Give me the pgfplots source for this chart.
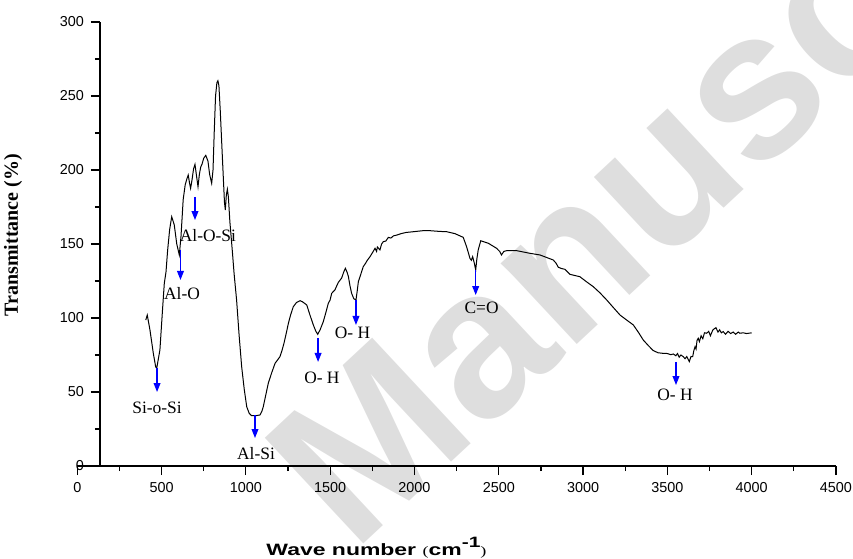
\documentclass[border=0pt]{standalone}
\usepackage{fontspec}
\setmainfont{Liberation Serif}
\newfontfamily\arialfont{Liberation Sans}
\usepackage{graphicx}
\usepackage{pgfplots}
\usepackage{pgfplotstable}
\pgfplotsset{compat=1.18}
\usetikzlibrary{arrows.meta}

% FTIR spectrum, values
\pgfplotstableread{
x y
406 98.6
415 102
431 91.9
451 76
465 67
471 66
490 78.4
504 103
516 123.4
526 131
536 146
548 160
560 168.4
575 163
590 150
605 142.6
615 155
628 180
640 190
650 194
658 196.6
666 191
672 187.6
680 193
690 201
698 203.8
706 197
716 188.7
724 197
732 202
740 204
750 208
762 209.9
775 206
785 197
797 191
805 200
812 225
820 250
828 259
834 260.3
840 257
848 240
858 215
866 195
873 178
878 173
884 183
890 187
896 182
905 165
919 146
930 130
945 112
960 88
975 67
990 52
1005 40
1020 35.5
1034 34
1060 34
1084 34.5
1095 37
1103 40
1118 48
1133 56
1153 63
1173 69.4
1190 72
1202 73.9
1214 78
1226 83
1240 90
1252 96.4
1265 102
1281 107.6
1300 110.5
1321 111.7
1335 111
1361 108.8
1380 102
1400 95.3
1415 91
1426 89
1440 92
1459 97.5
1475 104
1489 110
1499 112
1509 116.7
1528 119
1548 124
1568 127
1580 131
1590 133.6
1600 131
1608 128
1617 122
1627 116.7
1640 113
1653 112.2
1660 118
1667 124.5
1680 129
1696 134.7
1710 137
1720 139
1736 141.4
1750 144
1766 147.1
1775 145
1780 148
1795 146
1805 150
1815 151.6
1830 152
1845 154.5
1860 154
1875 155.5
1894 156
1920 157
1950 157.8
1993 158.3
2050 159
2092 159
2150 158.5
2191 158.3
2240 157
2289 154.5
2309 148.2
2329 140.3
2337 139
2345 141.4
2355 137
2363 132.4
2370 140
2378 146
2393 152.2
2438 150.5
2487 147.1
2505 145
2516 142.6
2530 145
2547 145.5
2606 145.5
2685 143.7
2744 142.6
2823 139.2
2840 137
2853 134.3
2870 133.5
2892 132.9
2922 129.5
2981 127.9
3020 124.5
3060 121.2
3100 117
3140 112.2
3180 107
3219 102
3260 98.5
3298 95.3
3330 90
3357 85.1
3390 81
3416 78
3445 76.5
3476 76.1
3500 76
3520 75.2
3535 75.7
3550 74.5
3560 76
3570 73.5
3580 75
3594 73.9
3605 72.5
3615 74
3630 70.5
3640 74
3650 73.9
3657 78
3664 80.6
3670 79
3676 85
3683 86.3
3690 84
3700 88
3710 86
3720 90
3733 89.7
3745 91
3755 88
3770 92
3788 93.5
3800 90.5
3810 92
3820 90
3831 90.8
3845 89
3860 91
3875 89.5
3890 90.5
3905 89
3920 90.5
3930 89.7
3950 90
3970 89.5
4000 90
}\spectrum

\tikzset{peak/.style={blue, line width=0.6pt, -{Triangle[length=4.5pt,width=3.4pt]}},
         plabel/.style={font=\fontsize{8.7}{10}\selectfont, inner sep=0pt, anchor=center}}

\begin{document}
\begin{tikzpicture}
\useasboundingbox (-38.65pt,-46pt) rectangle (387.85pt,233pt);
% watermark of the source page
\node[rotate=43, anchor=base west, inner sep=0pt, text=black!13,
      font=\arialfont\bfseries\fontsize{105}{110}\selectfont] at (138pt,-44pt) {Manuscript};
\begin{axis}[
    at={(0,0)}, anchor=south west,
    scale only axis,
    width=379.35pt, height=222pt,
    xmin=0, xmax=4500,
    ymin=0, ymax=300,
    axis x line=bottom,
    axis y line=left,
    axis y line shift=-11.35pt,
    axis line style={-, line width=0.7pt},
    xtick={0,500,...,4500},
    minor xtick={250,750,...,4250},
    ytick={0,50,...,300},
    minor ytick={25,75,...,275},
    tick align=outside,
    major tick length=4.5pt,
    minor tick length=2.5pt,
    tick style={black, line width=0.6pt},
    ticklabel style={font=\arialfont\fontsize{7.2}{8}\selectfont},
    /pgf/number format/assume math mode=true,
    /pgf/number format/1000 sep={},
    xlabel={\scalebox{1.4}[1]{\arialfont\bfseries\fontsize{8.2}{10}\selectfont Wave number {\rmfamily\mdseries\fontsize{6.5}{8}\selectfont(}cm\raisebox{4pt}{\fontsize{7.5}{8}\selectfont -1}{\rmfamily\mdseries\fontsize{6.5}{8}\selectfont)}}},
    xlabel style={at={(axis description cs:0.3944,-0.2005)}, anchor=base, inner sep=0pt},
    ylabel={\bfseries\fontsize{10}{12}\selectfont Transmittance (\%)},
    ylabel style={at={(axis description cs:-0.0848,0.52)}, anchor=center, inner sep=0pt},
    clip=false,
]
\addplot[black, line width=0.5pt] table[x=x, y=y] {\spectrum};

\draw[peak] (axis cs:473,66.2) -- (axis cs:473,50);
\node[plabel] at (axis cs:473,39.2) {Si-o-Si};
\draw[peak] (axis cs:612,146) -- (axis cs:612,125.7);
\node[plabel] at (axis cs:621,116.2) {Al-O};
\draw[peak] (axis cs:698,181.8) -- (axis cs:698,166.2);
\node[plabel] at (axis cs:775,156) {Al-O-Si};
\draw[peak] (axis cs:1054,34.5) -- (axis cs:1054,18.9);
\node[plabel] at (axis cs:1060,8.3) {Al-Si};
\draw[peak] (axis cs:1428,86.5) -- (axis cs:1428,70.3);
\node[plabel] at (axis cs:1451,59.5) {O- H};
\draw[peak] (axis cs:1653,112.2) -- (axis cs:1653,95.3);
\node[plabel] at (axis cs:1632,89.9) {O- H};
\draw[peak] (axis cs:2363,132.4) -- (axis cs:2363,115.5);
\node[plabel] at (axis cs:2398,106.8) {C=O};
\draw[peak] (axis cs:3551,70.3) -- (axis cs:3551,54.7);
\node[plabel] at (axis cs:3545,48) {O- H};
\end{axis}
\end{tikzpicture}
\end{document}
